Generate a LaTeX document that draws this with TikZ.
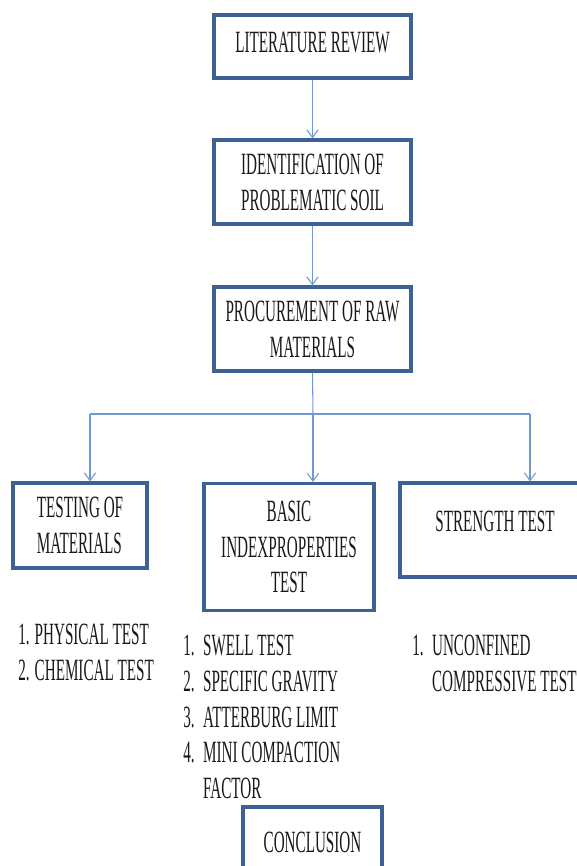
\documentclass[tikz,border=0pt]{standalone}
\usepackage{fontspec}
\setmainfont{Liberation Serif}[FakeStretch=0.49]
\usepackage{tikz}
\usetikzlibrary{arrows.meta,positioning,calc}
\definecolor{boxblue}{RGB}{62,97,148}
\definecolor{linkblue}{RGB}{112,152,210}
\definecolor{textgray}{RGB}{25,25,25}
\tikzset{
    stage/.style={rectangle, draw=boxblue, line width=2.2pt, fill=white, text=textgray, align=center, inner sep=0pt, font=\fontsize{22pt}{25.5pt}\selectfont},
    stageL/.style={stage, align=left},
    link/.style={linkblue, line width=0.75pt, -{Straight Barb[length=5.5pt,width=8pt]}},
    joint/.style={linkblue, line width=0.75pt},
    itemlist/.style={anchor=north west, inner sep=0pt, text=textgray, font=\fontsize{22pt}{25.5pt}\selectfont},
}

\begin{document}
\begin{tikzpicture}[x=0.025cm, y=-0.025cm]
    \useasboundingbox (0,0) rectangle (577,866);

    % main chain
    \node[stage, minimum width=4.925cm, minimum height=1.575cm, text depth=6pt] (review) at (312.5,46.5) {LITERATURE REVIEW};
    \node[stageL, minimum width=4.925cm, minimum height=2.1cm] (ident) at (312.5,182) {IDENTIFICATION OF\\PROBLEMATIC SOIL};
    \node[stage, minimum width=4.925cm, minimum height=2.1cm] (procure) at (312.5,329) {PROCUREMENT OF RAW\\MATERIALS};
    \draw[link] (review) -- (ident);
    \draw[link] (ident) -- (procure);

    % three branches
    \node[stageL, minimum width=3.35cm, minimum height=2.125cm] (testing) at (80,525.5) {TESTING OF\\MATERIALS};
    \node[stage, minimum width=4.25cm, minimum height=3.175cm] (basic) at (289,547) {BASIC\\INDEXPROPERTIES\\TEST};
    \node[stage, minimum width=4.75cm, minimum height=2.35cm, text depth=13pt] (strength) at (495,530) {STRENGTH TEST};

    \coordinate (split) at (313,414);
    \coordinate (splitL) at (90,414);
    \coordinate (splitR) at (530,414);
    \draw[joint] (procure.south) -- (split);
    \draw[joint] (splitL) -- (splitR);
    \draw[link] (splitL) -- (splitL |- testing.north);
    \draw[link] (split) -- (split |- basic.north);
    \draw[link] (splitR) -- (splitR |- strength.north);

    % test lists
    \node[itemlist] (physlist) at (18,619) {\begin{tabular}{@{}l@{}}1. PHYSICAL TEST\\2. CHEMICAL TEST\end{tabular}};
    \node[itemlist] (indexlist) at (183,630) {\begin{tabular}{@{}l@{\hspace{6pt}}l@{}}1. & SWELL TEST\\2. & SPECIFIC GRAVITY\\3. & ATTERBURG LIMIT\\4. & MINI COMPACTION\\ & FACTOR\end{tabular}};
    \node[itemlist] (ucslist) at (412,630) {\begin{tabular}{@{}l@{\hspace{6pt}}l@{}}1. & UNCONFINED\\ & COMPRESSIVE TEST\end{tabular}};

    % end
    \node[stage, minimum width=3.475cm, minimum height=1.75cm] (conclusion) at (312.5,842) {CONCLUSION};
\end{tikzpicture}
\end{document}
